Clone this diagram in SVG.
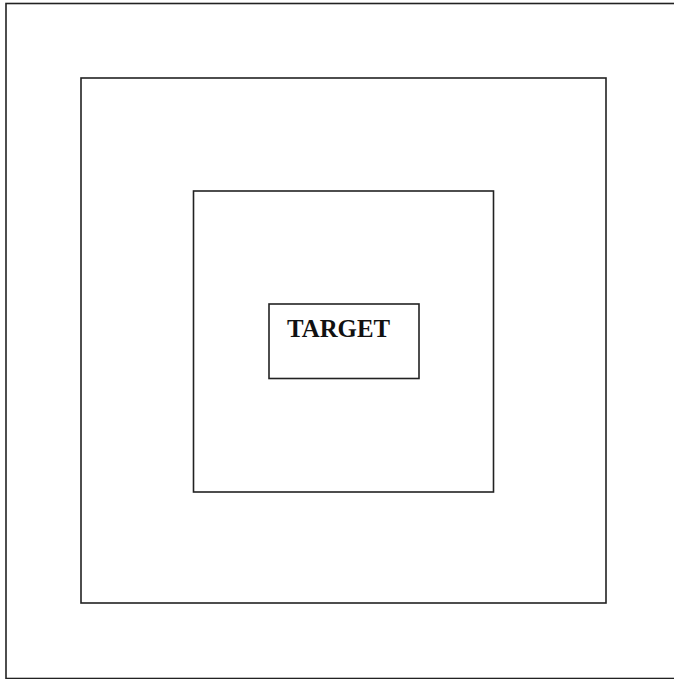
<svg xmlns="http://www.w3.org/2000/svg" width="674" height="679" viewBox="0 0 674 679">
<style>
.b{fill:none;stroke:#222;stroke-width:1.6}
.t{font-family:"Liberation Serif",serif;font-weight:bold;font-size:24.5px;fill:#111}
</style>
<rect width="674" height="679" fill="#fff"/>
<g id="outer"><rect class="b" x="6" y="3.5" width="672" height="675"/></g>
<g id="middle"><rect class="b" x="81" y="78" width="525" height="525"/></g>
<g id="inner"><rect class="b" x="193.5" y="191" width="300" height="301"/></g>
<g id="target"><rect class="b" x="269" y="304" width="150" height="74.5"/>
<text class="t" x="287" y="337" textLength="103" lengthAdjust="spacingAndGlyphs">TARGET</text></g>
<g id="connectors"/>
</svg>
